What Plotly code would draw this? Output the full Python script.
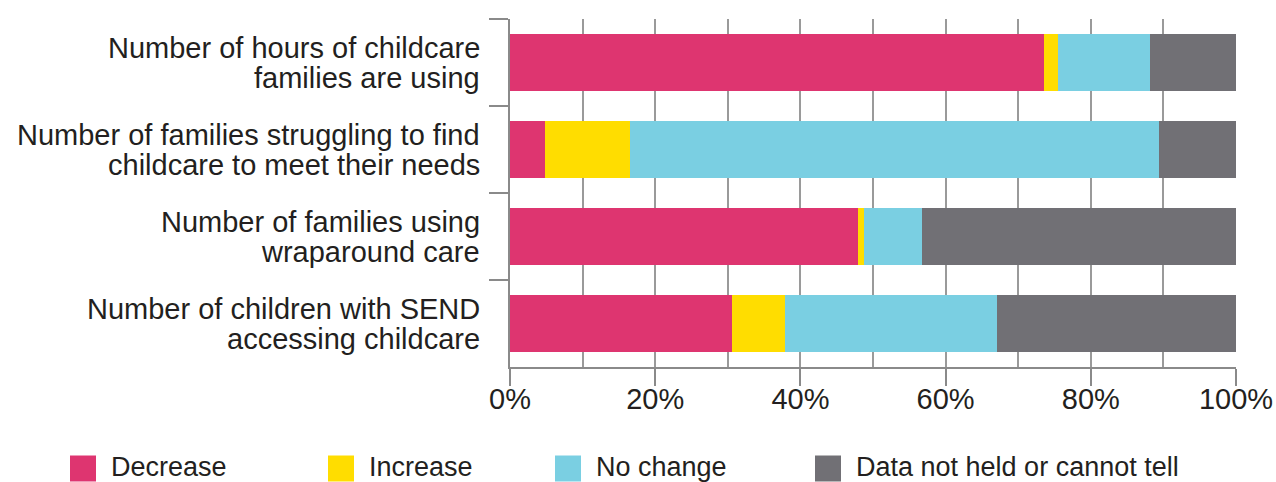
import plotly.graph_objects as go

categories = [
    "Number of hours of childcare<br>families are using",
    "Number of families struggling to find<br>childcare to meet their needs",
    "Number of families using<br>wraparound care",
    "Number of children with SEND<br>accessing childcare",
]
series_names = ["Decrease", "Increase", "No change", "Data not held or cannot tell"]
decrease = [73.6, 4.8, 47.9, 30.6]
increase = [1.9, 11.7, 0.8, 7.3]
no_change = [12.7, 72.9, 8.1, 29.2]
not_held = [11.8, 10.6, 43.2, 32.9]
colors = ["#de3570", "#ffdd00", "#7acfe2", "#717075"]
x_ticks = [0, 20, 40, 60, 80, 100]
x_tick_labels = ["0%", "20%", "40%", "60%", "80%", "100%"]

W, H = 1276, 482
L, R, T, B = 510, 40, 19, 115
PW, PH = W - L - R, H - T - B

def px(x):
    return (x - L) / PW

def py(y):
    return (H - B - y) / PH

TEXT = "#231f20"
FONT = "Liberation Sans, Arial, sans-serif"

fig = go.Figure()
for name, vals, col in zip(series_names, [decrease, increase, no_change, not_held], colors):
    fig.add_trace(go.Bar(
        y=categories, x=vals, name=name, orientation="h",
        marker=dict(color=col, line=dict(width=0)), showlegend=False,
    ))

annotations = []
# category labels, one annotation per line for tight spacing
for cat in categories:
    lines = cat.split("<br>")
    n = len(lines)
    for i, ln in enumerate(lines):
        annotations.append(dict(
            x=0, xref="paper", y=cat, yref="y", text=ln, showarrow=False,
            xanchor="right", yanchor="middle", xshift=-28,
            yshift=(n - 1) / 2 * 30 - i * 30,
            font=dict(size=29, color=TEXT, family=FONT),
        ))

# legend drawn manually
shapes = []
leg_sq_x = [70, 328, 555, 815]
for name, col, sx in zip(series_names, colors, leg_sq_x):
    shapes.append(dict(
        type="rect", xref="paper", yref="paper",
        x0=px(sx), x1=px(sx + 26), y0=py(481.5), y1=py(455.5),
        fillcolor=col, line=dict(width=0),
    ))
    annotations.append(dict(
        x=px(sx + 39), xref="paper", y=py(467), yref="paper", text=name,
        showarrow=False, xanchor="left", yanchor="middle",
        font=dict(size=27, color=TEXT, family=FONT),
    ))

fig.update_layout(
    barmode="stack",
    bargap=0.345,
    width=W, height=H,
    autosize=False,
    margin=dict(l=L, r=R, t=T, b=B, pad=0, autoexpand=False),
    paper_bgcolor="white", plot_bgcolor="white",
    showlegend=False,
    annotations=annotations,
    shapes=shapes,
    font=dict(family=FONT, color=TEXT),
)
fig.update_xaxes(
    range=[0, 100],
    tickvals=x_ticks, ticktext=x_tick_labels,
    tickfont=dict(size=29, color=TEXT, family=FONT),
    ticks="outside", ticklen=17, tickwidth=1.5, tickcolor="#8a8a8a",
    ticklabelstandoff=-12,
    showgrid=True, gridcolor="#9a9a9a", gridwidth=1.5,
    minor=dict(dtick=10, showgrid=True, gridcolor="#9a9a9a", gridwidth=1.5, ticks=""),
    showline=True, linecolor="#8a8a8a", linewidth=1.5,
    zeroline=False, fixedrange=True, automargin=False,
)
fig.update_yaxes(
    autorange="reversed",
    showticklabels=False,
    ticks="outside", tickson="boundaries", ticklen=19, tickwidth=1.5, tickcolor="#8a8a8a",
    showline=True, linecolor="#8a8a8a", linewidth=1.5,
    showgrid=False, zeroline=False, fixedrange=True, automargin=False,
)

fig.write_html(
    "out.html",
    config={"displayModeBar": False},
    post_script="document.body.style.margin='0';document.body.style.overflow='hidden';",
)
